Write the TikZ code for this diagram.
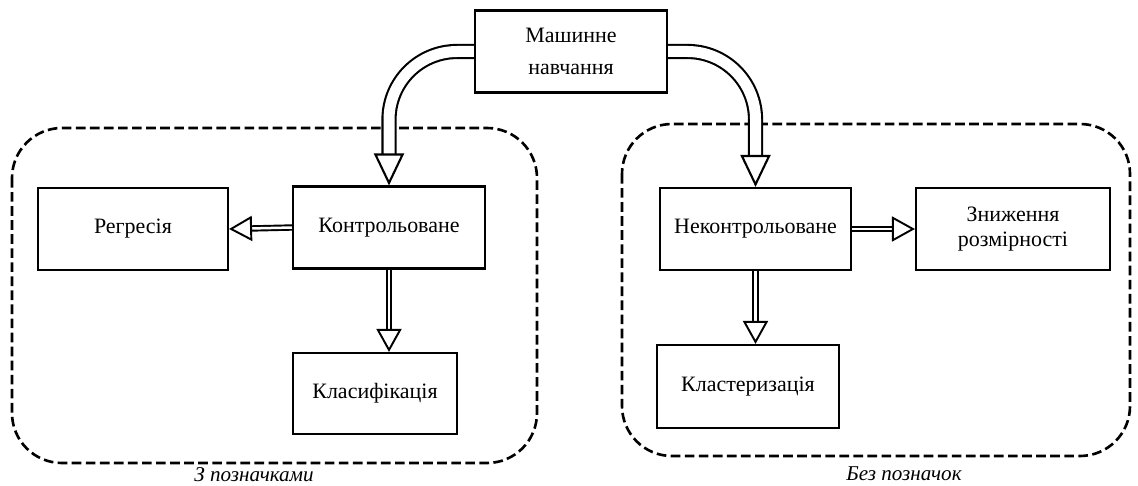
\documentclass[tikz,border=0pt]{standalone}
\usepackage{fontspec}
\setmainfont{Liberation Serif}
\usetikzlibrary{arrows.meta}

\begin{document}
\begin{tikzpicture}[x=0.02cm, y=-0.02cm,
box/.style={draw, line width=1.2pt, minimum width=3.84cm, minimum height=1.64cm, align=center, font=\fontsize{12.5}{18}\selectfont, inner sep=2pt},
group/.style={draw, line width=1.5pt, dash pattern=on 5.5pt off 2.5pt, rounded corners=1cm},
bigarrow/.style={double, line width=1.2pt, double distance=0.22cm, rounded corners=1.36cm,
  -{Triangle[open, fill=white, width=0.6cm, length=0.64cm, line width=1.2pt]}},
smallarrow/.style={double, line width=1.1pt, double distance=0.05cm,
  -{Triangle[open, fill=white, width=0.5cm, length=0.46cm, line width=1.1pt]}},
grouplabel/.style={font=\fontsize{12}{15}\selectfont\itshape}
]
\useasboundingbox (0,0) rectangle (1138,486);

% dashed groups
\draw[group] (12,128) rectangle (537,463);
\draw[group] (622,124) rectangle (1130,456);
\node[grouplabel] (lbl) at (254,475) {З позначками};
\node[grouplabel] (ulbl) at (904,474) {Без позначок};

% boxes
\node[box] (ml) at (571,51.5) {Машинне\\навчання};
\node[box] (ctrl) at (389,227.5) {Контрольоване};
\node[box, minimum width=3.8cm] (regr) at (133,229) {Регресія};
\node[box, minimum width=3.28cm, minimum height=1.62cm] (cls) at (375,393.5) {Класифікація};
\node[box, minimum width=3.82cm] (unctrl) at (755.5,229) {Неконтрольоване};
\node[box, minimum width=3.88cm, font=\fontsize{12.5}{14.5}\selectfont] (dimred) at (1013,229) {Зниження\\розмірності};
\node[box, minimum width=3.64cm, minimum height=1.66cm] (clust) at (748,386.5) {Кластеризація};

% arrows
\draw[bigarrow] (ml.west) -| (ctrl.north);
\draw[bigarrow] (ml.east) -| (unctrl.north);
\draw[smallarrow] (ctrl.west) -- (regr.east);
\draw[smallarrow] (ctrl.south) -- (ctrl.south |- cls.north);
\draw[smallarrow] (unctrl.east) -- (dimred.west);
\draw[smallarrow] (unctrl.south) -- (unctrl.south |- clust.north);
\end{tikzpicture}
\end{document}
